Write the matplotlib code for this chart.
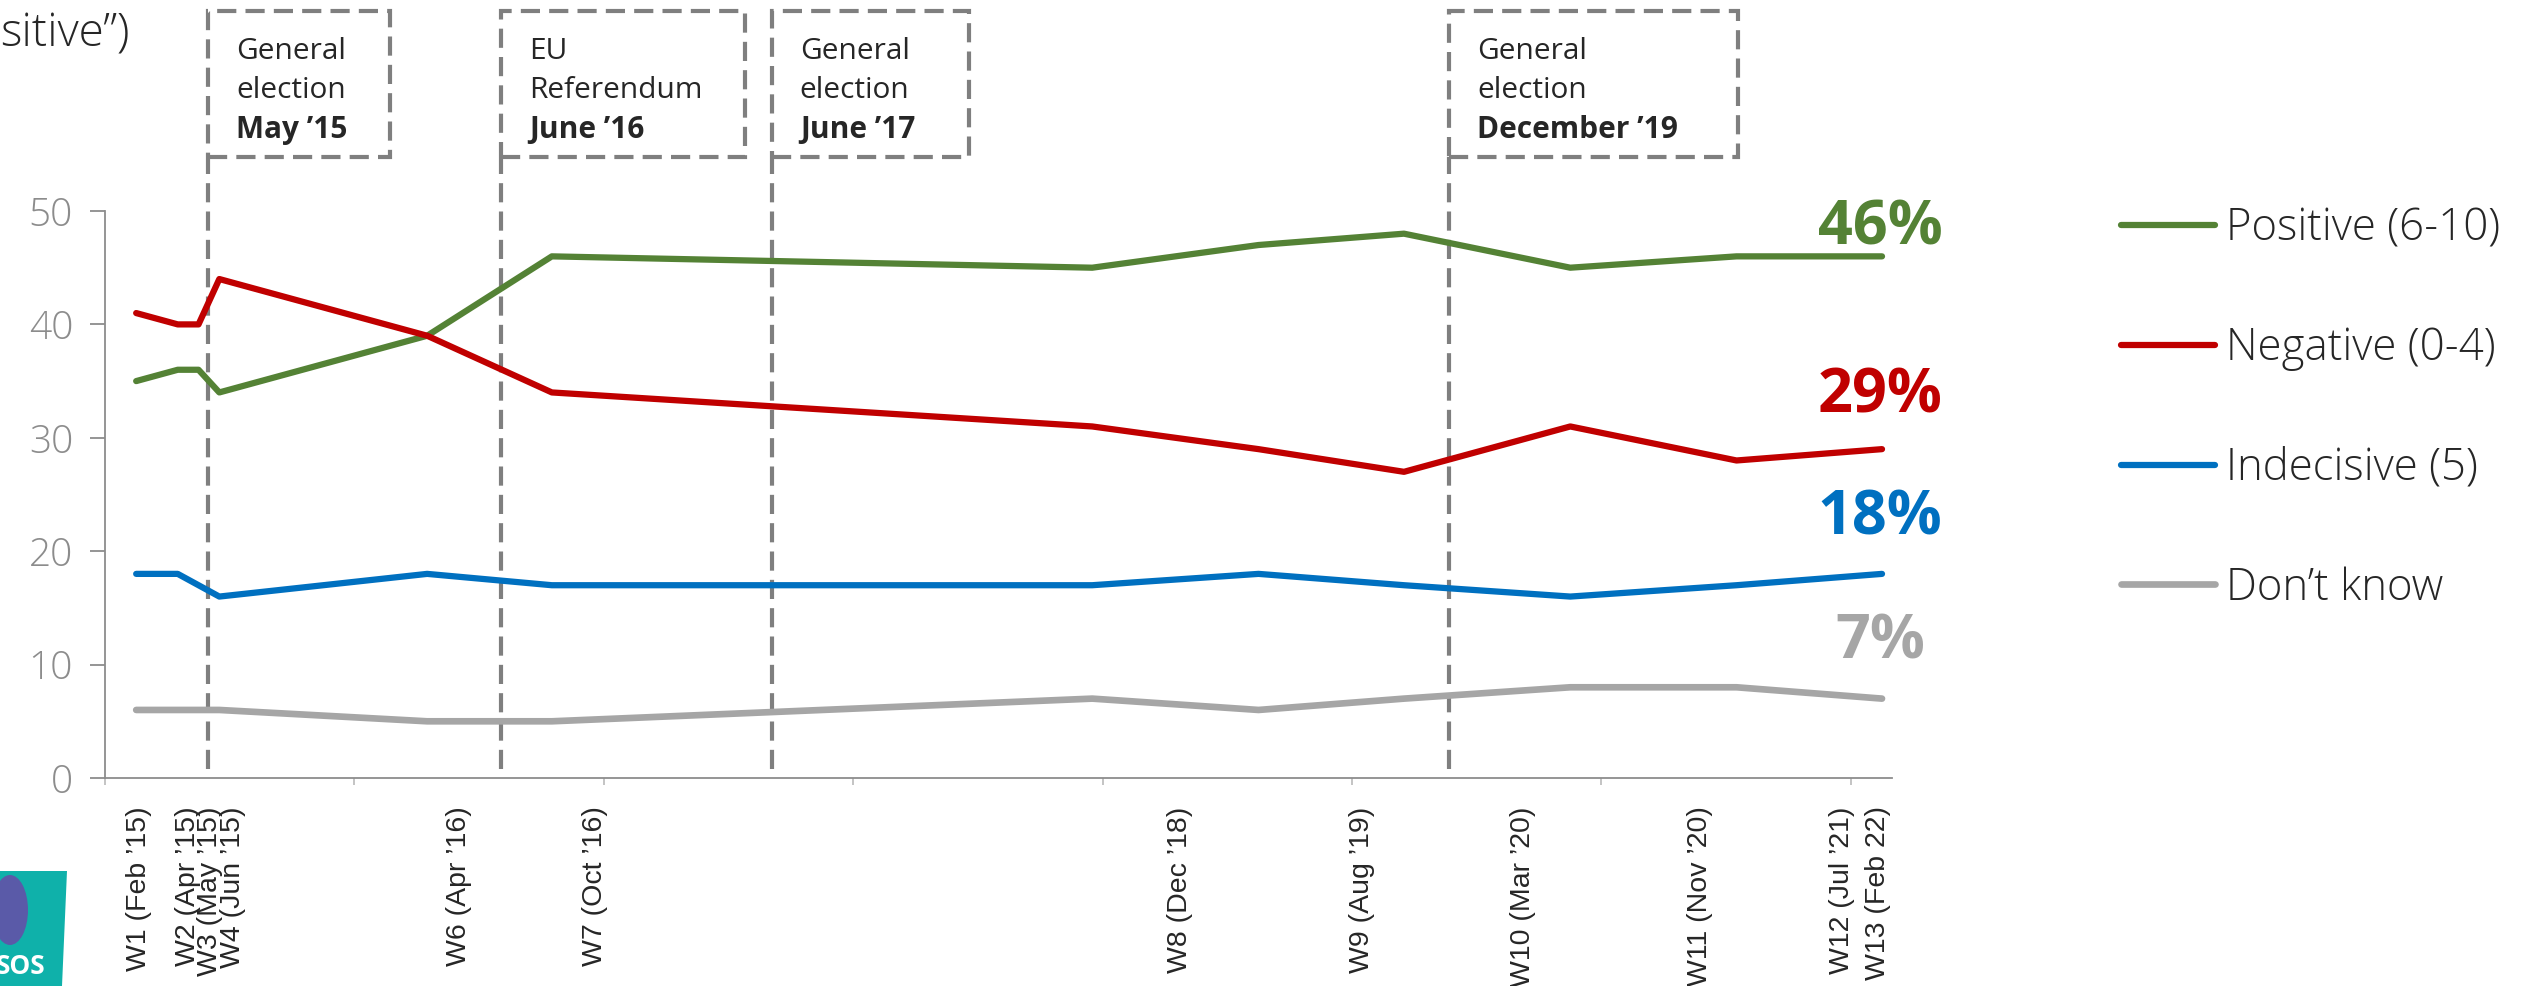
"""
Wave tracker chart: Positive / Negative / Indecisive / Don't know, W1-W13
"""
import numpy as np
import matplotlib
matplotlib.use('Agg')
import matplotlib.pyplot as plt
from matplotlib.patches import Rectangle, Polygon, Ellipse

plt.rcParams['font.family'] = ['Open Sans', 'DejaVu Sans']

# ── data ──
WAVE_YEAR = [2015, 2015, 2015, 2015, 2016, 2016, 2018, 2019, 2020, 2020, 2021, 2022]
WAVE_MONTH = [2, 4, 5, 6, 4, 10, 12, 8, 3, 11, 7, 2]
WAVE_LABELS = ["W1 (Feb \u201915)", "W2 (Apr \u201915)", "W3 (May \u201915)", "W4 (Jun \u201915)",
               "W6 (Apr \u201916)", "W7 (Oct \u201916)", "W8 (Dec \u201918)", "W9 (Aug \u201919)",
               "W10 (Mar \u201920)", "W11 (Nov \u201920)", "W12 (Jul \u201921)", "W13 (Feb 22)"]

SERIES_NAMES = ["Positive (6-10)", "Negative (0-4)", "Indecisive (5)", "Don\u2019t know"]
POSITIVE = [35, 36, 36, 34, 39, 46, 45, 47, 48, 45, 46, 46]
NEGATIVE = [41, 40, 40, 44, 39, 34, 31, 29, 27, 31, 28, 29]
INDECISIVE = [18, 18, 17, 16, 18, 17, 17, 18, 17, 16, 17, 18]
DONT_KNOW = [6, 6, 6, 6, 5, 5, 7, 6, 7, 8, 8, 7]

EVENT_LINE1 = ["General", "EU", "General", "General"]
EVENT_LINE2 = ["election", "Referendum", "election", "election"]
EVENT_WHEN = ["May \u201915", "June \u201916", "June \u201917", "December \u201919"]

# ── layout / style (positions in decimal years & value units) ──
LABEL_POS = [2015.136, 2015.333, 2015.423, 2015.513, 2016.419, 2016.965,
             2019.310, 2020.040, 2020.686, 2021.395, 2021.965, 2022.109]
BOX_LEFT = [2015.413, 2016.588, 2017.674, 2020.390]
BOX_RIGHT = [2016.143, 2017.566, 2018.464, 2021.548]
BOX_BOTTOM, BOX_TOP = 54.8, 67.6
PCT_X = 2022.117
PCT_Y = [48.4, 33.6, 22.8, 11.9]
COLORS = ["#548235", "#C00000", "#0070C0", "#A6A6A6"]
LINE_W = [4.5, 4.5, 4.5, 4.8]
DASH_COL = "#7F7F7F"
AXIS_COL = "#8C8C8C"
TEXT_COL = "#262626"

x = np.array(WAVE_YEAR) + (np.array(WAVE_MONTH) - 0.5) / 12.0
series = [POSITIVE, NEGATIVE, INDECISIVE, DONT_KNOW]

W, H = 2543, 986
fig = plt.figure(figsize=(W / 100, H / 100), dpi=100)
ax = fig.add_axes([105 / W, 1 - 778 / H, (1892 - 105) / W, (778 - 211) / H])

handles = []
for vals, name, col, lw in zip(series, SERIES_NAMES, COLORS, LINE_W):
    ln, = ax.plot(x, vals, color=col, lw=lw, solid_capstyle='round',
                  solid_joinstyle='round', label=name, zorder=3, clip_on=False)
    handles.append(ln)

# last-value labels
for vals, col, py in zip(series, COLORS, PCT_Y):
    ax.text(PCT_X, py, f"{vals[-1]}%", color=col, fontsize=44, fontweight='bold',
            ha='center', va='center', zorder=4)

# event lines and boxes
dash = (0, (4.6, 2.2))
for left, right, l1, l2, when in zip(BOX_LEFT, BOX_RIGHT, EVENT_LINE1, EVENT_LINE2, EVENT_WHEN):
    ax.plot([left, left], [0.8, BOX_BOTTOM], color=DASH_COL, lw=3.0,
            linestyle=dash, dash_capstyle='butt', clip_on=False, zorder=2)
    ax.add_patch(Rectangle((left, BOX_BOTTOM), right - left, BOX_TOP - BOX_BOTTOM,
                           fill=False, edgecolor=DASH_COL, lw=3.0, linestyle=dash,
                           clip_on=False, zorder=2))
    tx = left + 0.112
    ax.text(tx, 64.05, l1, fontsize=21.5, color=TEXT_COL, va='center', ha='left', clip_on=False)
    ax.text(tx, 60.6, l2, fontsize=21.5, color=TEXT_COL, va='center', ha='left', clip_on=False)
    ax.text(tx, 57.1, when, fontsize=21.5, color=TEXT_COL, va='center', ha='left',
            fontweight='bold', clip_on=False)

# wave labels under the axis
for lx, lab in zip(LABEL_POS, WAVE_LABELS):
    ax.text(lx, -2.5, lab, rotation=90, ha='center', va='top', fontsize=20.5,
            color=TEXT_COL, family=['Liberation Sans', 'DejaVu Sans'], clip_on=False)

# axes styling
ax.set_xlim(2015.0, 2022.165)
ax.set_ylim(0, 50)
ax.set_yticks(range(0, 51, 10))
ax.set_xticks(range(2015, 2023))
ax.set_xticklabels([])
for s in ['top', 'right']:
    ax.spines[s].set_visible(False)
for s in ['left', 'bottom']:
    ax.spines[s].set_color(AXIS_COL)
    ax.spines[s].set_linewidth(1.3)
ax.tick_params(axis='y', length=11, width=1.3, color=AXIS_COL, pad=12,
               labelsize=28, labelcolor='#8C8C8C')
ax.tick_params(axis='x', length=5, width=1.3, color='#BFBFBF')
for lbl in ax.get_yticklabels():
    lbl.set_fontweight('light')

# legend
fig.legend(handles, SERIES_NAMES, loc='upper left', bbox_to_anchor=(2121 / W, 1 - 207 / H),
           frameon=False, handlelength=2.15, handletextpad=0.26, labelspacing=1.72,
           borderpad=0, borderaxespad=0, labelcolor=TEXT_COL,
           prop=dict(family=['Open Sans', 'DejaVu Sans'], weight='light', size=31.5))

# clipped heading at top-left
fig.text(0, 1 - 35 / H, "sitive\u201d)", fontsize=33, color=TEXT_COL, ha='left',
         va='center', fontweight='light')

# partial logo bottom-left
fig.add_artist(Polygon([(0, 1 - 871 / H), (67 / W, 1 - 871 / H), (62 / W, 0), (0, 0)],
                       closed=True, facecolor='#0FB1AA', edgecolor='none',
                       transform=fig.transFigure))
fig.add_artist(Ellipse((10 / W, 1 - 910 / H), 36 / W, 70 / H, facecolor='#5A5AA8',
                       edgecolor='none', transform=fig.transFigure))
fig.text(-4 / W, 1 - 967 / H, "SOS", fontsize=19, fontweight='bold', color='white',
         ha='left', va='center')

fig.savefig("out.png", dpi=100, facecolor='white')
